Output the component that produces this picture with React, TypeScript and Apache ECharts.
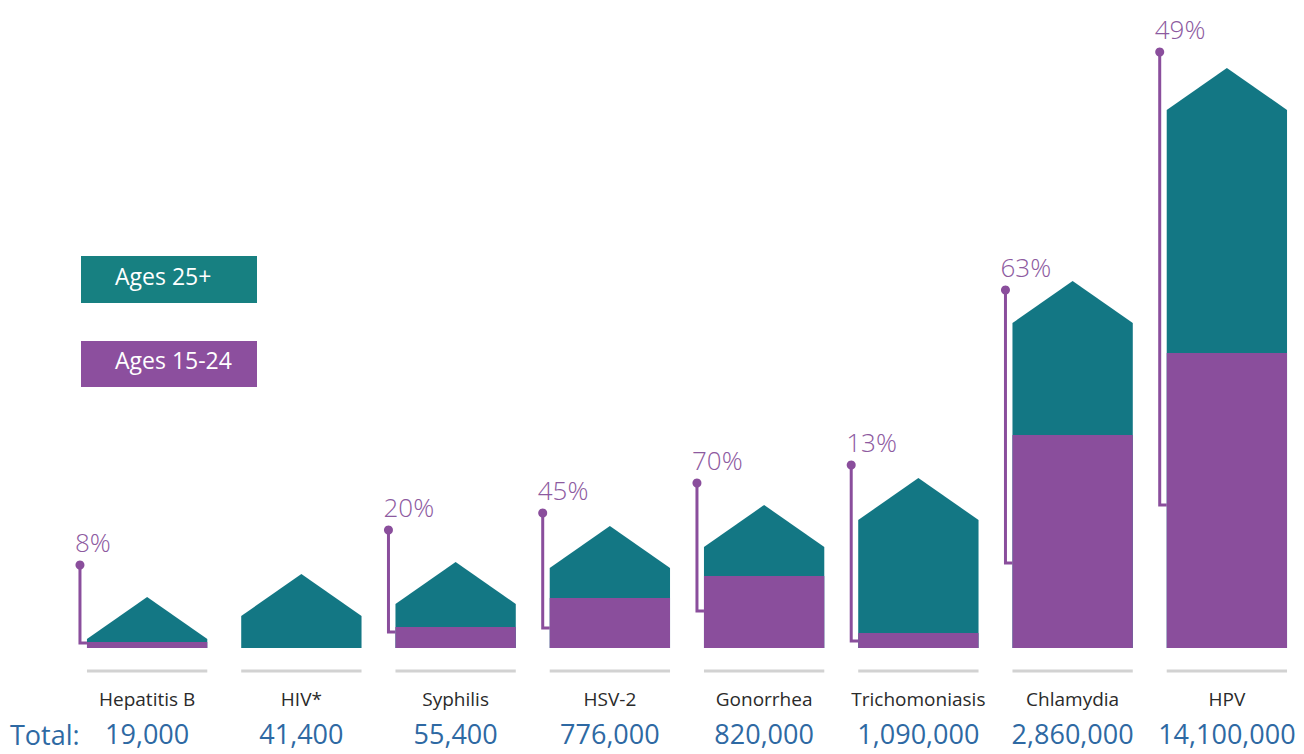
import React, { useEffect, useRef } from "react";
import * as echarts from "echarts";

// ---- data ----
const categories = ["Hepatitis B", "HIV*", "Syphilis", "HSV-2", "Gonorrhea", "Trichomoniasis", "Chlamydia", "HPV"];
const totals = [19000, 41400, 55400, 776000, 820000, 1090000, 2860000, 14100000];
// illustrative heights of the houses (wall height) and of the 15-24 part
const houseHeights = [9, 32, 44, 80, 101, 128, 325, 538];
const youthHeights = [6, 0, 21, 50, 72, 15, 213, 295];
// share of ages 15-24 (percent) and the marker bracket extents
const youthShare = [8, null, 20, 45, 70, 13, 63, 49];
const markerTops = [83, null, 118, 135, 165, 183, 358, 596];
const markerBottoms = [5, null, 16, 20, 37, 7, 85, 143];
const legendLabels = ["Ages 25+", "Ages 15-24"];

const TEAL = "#137784";
const PURPLE = "#8a4e9c";
const FONT = "'Open Sans', 'Noto Sans', sans-serif";

export default function App() {
  const ref = useRef<HTMLDivElement>(null);

  useEffect(() => {
    document.body.style.margin = "0";
    if (!ref.current) return;
    const chart = echarts.init(ref.current, undefined, { renderer: "svg" });

    const houseData = categories.map((_, i) => [i, houseHeights[i], youthHeights[i]]);
    const markerData = categories
      .map((_, i) => (markerTops[i] == null ? null : [i, markerTops[i], markerBottoms[i], youthShare[i]]))
      .filter((d) => d !== null);

    const renderHouse = (params: any, api: any) => {
      const i = api.value(0);
      const [cx, base] = api.coord([i, 0]);
      const wallTop = api.coord([i, api.value(1)])[1];
      const youthTop = api.coord([i, api.value(2)])[1];
      const bw = api.size([1, 0])[0] * 0.78;
      const L = cx - bw / 2;
      const R = cx + bw / 2;
      const roof = 42;
      const children: any[] = [
        {
          type: "line",
          shape: { x1: L, y1: base + 23, x2: R, y2: base + 23 },
          style: { stroke: "#d2d2d2", lineWidth: 3 },
        },
        {
          type: "polygon",
          shape: {
            points: [
              [L, base],
              [L, wallTop],
              [cx, wallTop - roof],
              [R, wallTop],
              [R, base],
            ],
          },
          style: { fill: TEAL },
        },
      ];
      if (base - youthTop > 0) {
        children.push({
          type: "rect",
          shape: { x: L, y: youthTop, width: bw, height: base - youthTop },
          style: { fill: PURPLE },
        });
      }
      return { type: "group", children };
    };

    const renderMarker = (params: any, api: any) => {
      const i = api.value(0);
      const cx = api.coord([i, 0])[0];
      const topY = api.coord([i, api.value(1)])[1];
      const botY = api.coord([i, api.value(2)])[1];
      const pct = api.value(3);
      const bw = api.size([1, 0])[0] * 0.78;
      const L = cx - bw / 2;
      const bx = L - 7;
      return {
        type: "group",
        children: [
          {
            type: "polyline",
            shape: { points: [[bx, topY], [bx, botY], [L, botY]] },
            style: { stroke: PURPLE, lineWidth: 3, fill: "none" },
          },
          {
            type: "circle",
            shape: { cx: bx, cy: topY, r: 4.5 },
            style: { fill: PURPLE },
          },
          {
            type: "text",
            x: bx - 5,
            y: topY - 10,
            style: {
              text: pct + "%",
              fill: "#8d5a9f",
              font: `300 26px ${FONT}`,
              align: "left",
              verticalAlign: "bottom",
            },
          },
        ],
      };
    };

    const option: any = {
      animation: false,
      backgroundColor: "#ffffff",
      grid: { left: 70, right: -6, top: 0, bottom: 106 },
      xAxis: [
        {
          type: "category",
          data: categories,
          position: "bottom",
          axisLine: { show: false },
          axisTick: { show: false },
          axisLabel: {
            margin: 41,
            fontSize: 19,
            fontWeight: 500,
            color: "#2a2a2a",
            fontFamily: FONT,
            interval: 0,
          },
        },
        {
          type: "category",
          data: totals.map((t) => t.toLocaleString("en-US")),
          position: "bottom",
          offset: 0,
          axisLine: { show: false },
          axisTick: { show: false },
          axisLabel: { margin: 72, fontSize: 27, color: "#2e69a3", fontFamily: FONT, interval: 0 },
        },
      ],
      yAxis: { type: "value", min: 0, max: 648, show: false },
      series: [
        {
          type: "custom",
          name: "houses",
          xAxisIndex: 0,
          renderItem: renderHouse,
          data: houseData,
          encode: { x: 0, y: 1 },
          clip: false,
        },
        {
          type: "custom",
          name: "markers",
          xAxisIndex: 0,
          renderItem: renderMarker,
          data: markerData,
          encode: { x: 0, y: 1 },
          clip: false,
          z: 3,
        },
      ],
      graphic: [
        { type: "rect", left: 81, top: 256, shape: { width: 176, height: 47 }, style: { fill: "#178081" } },
        {
          type: "text",
          left: 115,
          top: 264,
          style: { text: legendLabels[0], fill: "#ffffff", font: `23px ${FONT}` },
        },
        { type: "rect", left: 81, top: 341, shape: { width: 176, height: 46 }, style: { fill: "#8c4f9e" } },
        {
          type: "text",
          left: 115,
          top: 348,
          style: { text: legendLabels[1], fill: "#ffffff", font: `23px ${FONT}` },
        },
        {
          type: "text",
          left: 10,
          top: 721,
          style: { text: "Total:", fill: "#2e69a3", font: `27px ${FONT}` },
        },
      ],
    };

    chart.setOption(option);
    return () => chart.dispose();
  }, []);

  return <div ref={ref} style={{ width: 1304, height: 754 }} />;
}
